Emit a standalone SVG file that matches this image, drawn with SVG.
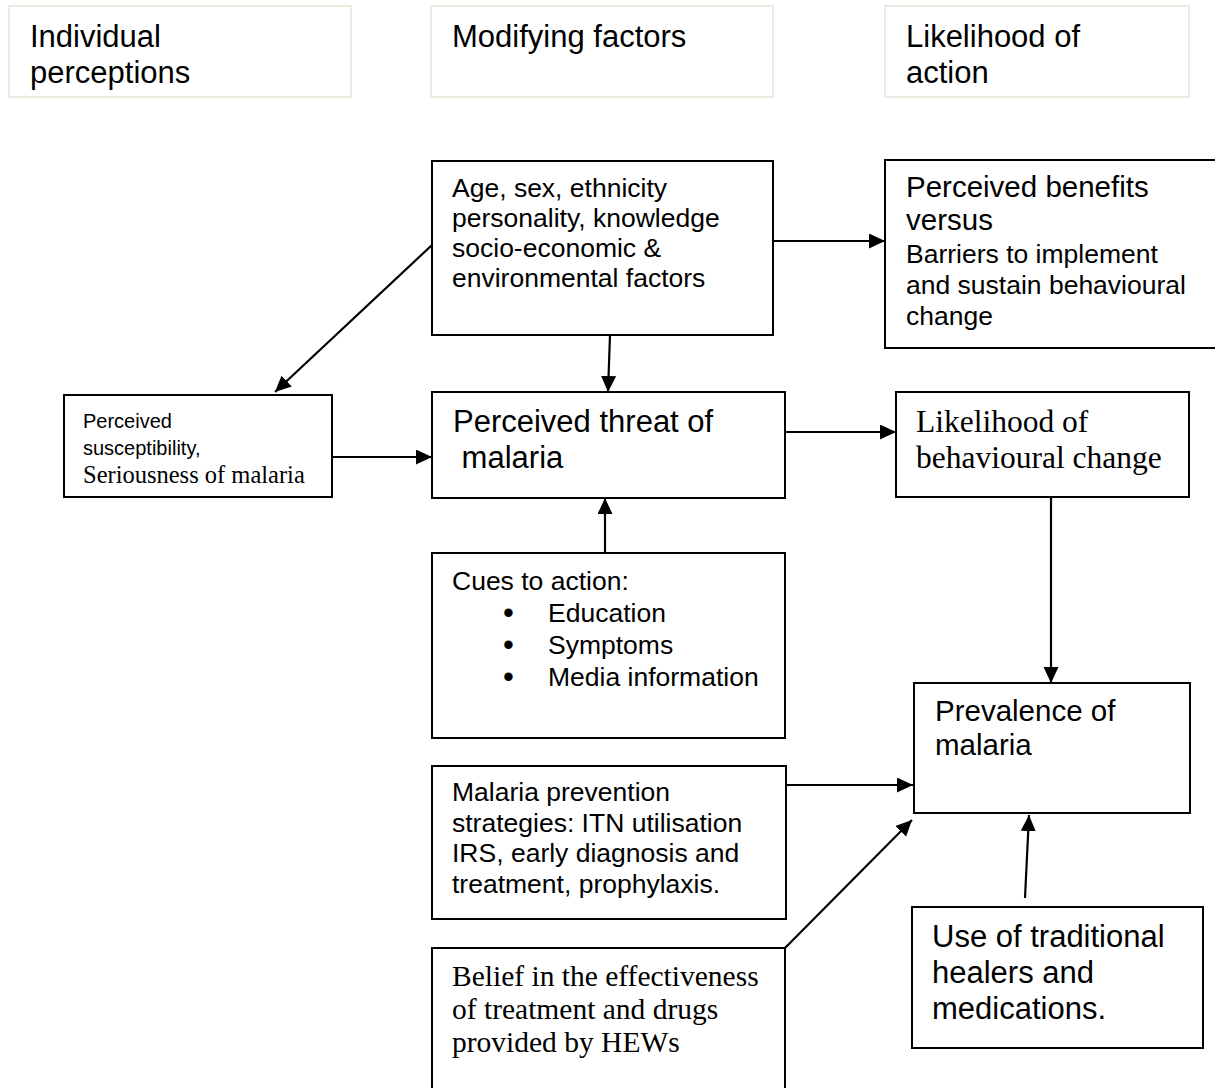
<svg xmlns="http://www.w3.org/2000/svg" width="1215" height="1088" viewBox="0 0 1215 1088">
<defs>
<style>
.hdr{fill:#fff;stroke:#efebe2;stroke-width:2}
.box{fill:#fff;stroke:#000;stroke-width:2}
.sans{font-family:"Liberation Sans",Arial,sans-serif;fill:#000}
.serif{font-family:"Liberation Serif","Times New Roman",serif;fill:#000}
.con{stroke:#000;stroke-width:2.2;fill:none;marker-end:url(#ah)}
</style>
<marker id="ah" markerUnits="userSpaceOnUse" markerWidth="18" markerHeight="16" refX="16" refY="7.5" orient="auto">
<path d="M0,0 L16,7.5 L0,15 z" fill="#000"/>
</marker>
</defs>
<rect width="1215" height="1088" fill="#fff"/>

<g id="hdr-individual">
<rect class="hdr" x="9" y="6" width="342" height="91"/>
<text class="sans" font-size="31"><tspan x="30" y="47">Individual</tspan><tspan x="30" y="83">perceptions</tspan></text>
</g>
<g id="hdr-modifying">
<rect class="hdr" x="431" y="6" width="342" height="91"/>
<text class="sans" font-size="31" x="452" y="47">Modifying factors</text>
</g>
<g id="hdr-likelihood">
<rect class="hdr" x="885" y="6" width="304" height="91"/>
<text class="sans" font-size="31"><tspan x="906" y="47">Likelihood of</tspan><tspan x="906" y="83">action</tspan></text>
</g>

<g id="node-factors">
<rect class="box" x="432" y="161" width="341" height="174"/>
<text class="sans" font-size="26.5"><tspan x="452" y="197">Age, sex, ethnicity</tspan><tspan x="452" y="227">personality, knowledge</tspan><tspan x="452" y="257">socio-economic &amp;</tspan><tspan x="452" y="287">environmental factors</tspan></text>
</g>

<g id="node-benefits">
<rect class="box" x="885" y="160" width="332" height="188"/>
<text class="sans"><tspan x="906" y="197" font-size="29.5">Perceived benefits</tspan><tspan x="906" y="230" font-size="29.5">versus</tspan><tspan x="906" y="263" font-size="26.5">Barriers to implement</tspan><tspan x="906" y="294" font-size="26.5">and sustain behavioural</tspan><tspan x="906" y="325" font-size="26.5">change</tspan></text>
</g>

<g id="node-susceptibility">
<rect class="box" x="64" y="395" width="268" height="102"/>
<text class="sans" font-size="20"><tspan x="83" y="428">Perceived</tspan><tspan x="83" y="455">susceptibility,</tspan></text>
<text class="serif" font-size="24.5" x="83" y="483">Seriousness of malaria</text>
</g>

<g id="node-threat">
<rect class="box" x="432" y="392" width="353" height="106"/>
<text class="sans" font-size="31" xml:space="preserve"><tspan x="453" y="432">Perceived threat of</tspan><tspan x="453" y="468"> malaria</tspan></text>
</g>

<g id="node-likelihood">
<rect class="box" x="896" y="392" width="293" height="105"/>
<text class="serif" font-size="31.5"><tspan x="916" y="432">Likelihood of</tspan><tspan x="916" y="468">behavioural change</tspan></text>
</g>

<g id="node-cues">
<rect class="box" x="432" y="553" width="353" height="185"/>
<text class="sans" font-size="26.5"><tspan x="452" y="590">Cues to action:</tspan><tspan x="548" y="622">Education</tspan><tspan x="548" y="654">Symptoms</tspan><tspan x="548" y="686">Media information</tspan></text>
<text class="sans" font-size="31"><tspan x="503" y="623">•</tspan><tspan x="503" y="655">•</tspan><tspan x="503" y="687">•</tspan></text>
</g>

<g id="node-prevalence">
<rect class="box" x="914" y="683" width="276" height="130"/>
<text class="sans" font-size="29.5"><tspan x="935" y="721">Prevalence of</tspan><tspan x="935" y="755">malaria</tspan></text>
</g>

<g id="node-strategies">
<rect class="box" x="432" y="766" width="354" height="153"/>
<text class="sans" font-size="26.5"><tspan x="452" y="801">Malaria prevention</tspan><tspan x="452" y="832">strategies: ITN utilisation</tspan><tspan x="452" y="862">IRS, early diagnosis and</tspan><tspan x="452" y="893">treatment, prophylaxis.</tspan></text>
</g>

<g id="node-belief">
<rect class="box" x="432" y="948" width="353" height="145"/>
<text class="serif" font-size="29.5"><tspan x="452" y="986">Belief in the effectiveness</tspan><tspan x="452" y="1019">of treatment and drugs</tspan><tspan x="452" y="1052">provided by HEWs</tspan></text>
</g>

<g id="node-traditional">
<rect class="box" x="912" y="907" width="291" height="141"/>
<text class="sans" font-size="31"><tspan x="932" y="947">Use of traditional</tspan><tspan x="932" y="983">healers and</tspan><tspan x="932" y="1019">medications.</tspan></text>
</g>

<g id="connectors">
<line class="con" x1="773" y1="241" x2="885" y2="241"/>
<line class="con" x1="432" y1="245" x2="275" y2="392"/>
<line class="con" x1="610" y1="335" x2="608" y2="392"/>
<line class="con" x1="333" y1="457" x2="432" y2="457"/>
<line class="con" x1="785" y1="432" x2="896" y2="432"/>
<line class="con" x1="605" y1="553" x2="605" y2="498"/>
<line class="con" x1="1051" y1="497" x2="1051" y2="683"/>
<line class="con" x1="786" y1="785" x2="913" y2="785"/>
<line class="con" x1="785" y1="948" x2="912" y2="820"/>
<line class="con" x1="1025" y1="898" x2="1029" y2="815"/>
</g>
</svg>
